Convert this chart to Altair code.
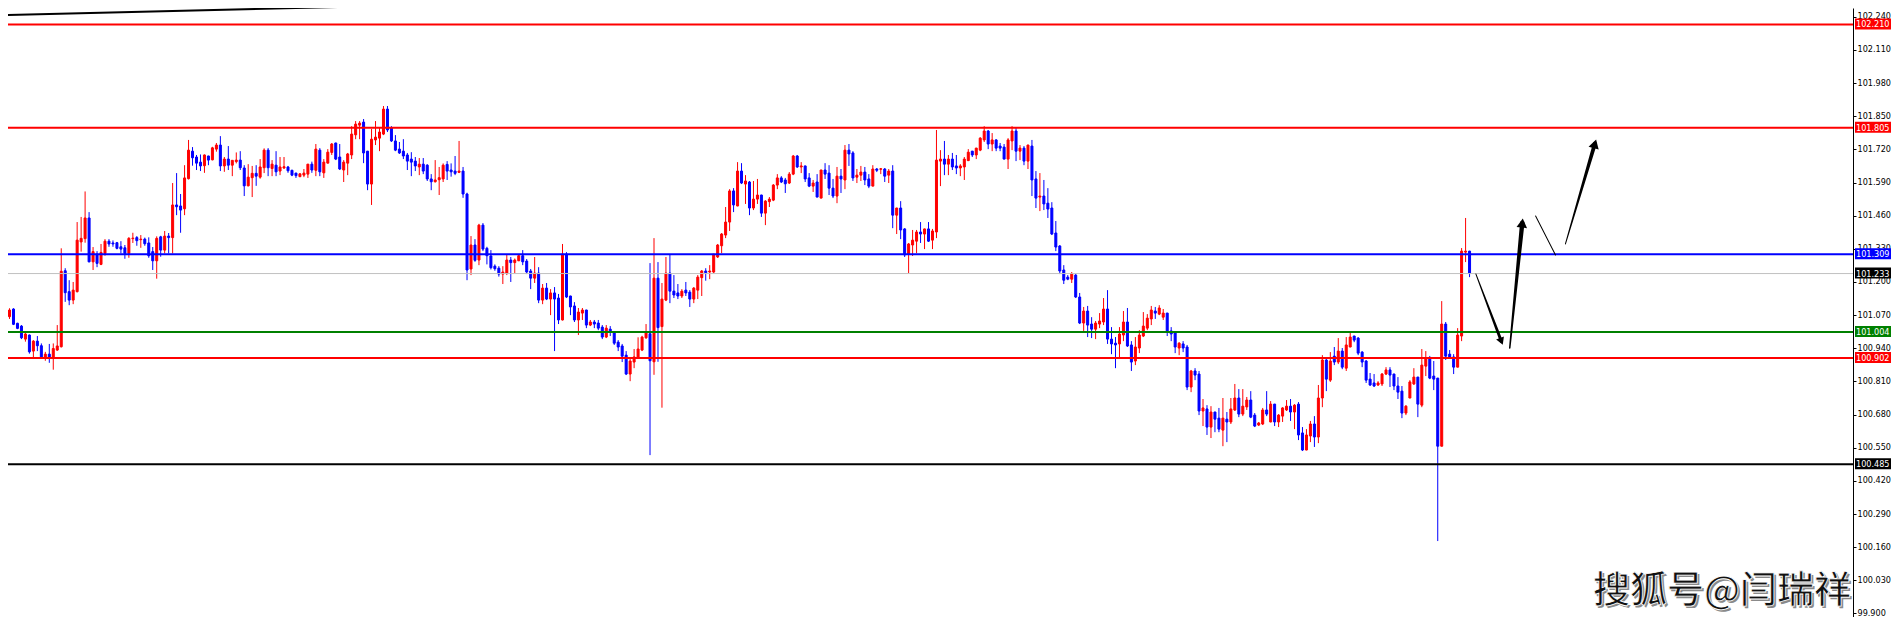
import altair as alt
import pandas as pd

# ---------------- candle data (one value per bar, oldest first) ----------------
open_ = [
101.142,101.064,101.094,101.038,101.027,100.976,100.992,100.929,100.968,100.950,
100.903,100.917,100.903,100.933,100.946,101.244,101.162,101.129,101.162,101.357,
101.370,101.451,101.279,101.309,101.269,101.312,101.360,101.353,101.354,101.338,
101.334,101.312,101.370,101.374,101.366,101.368,101.353,101.319,101.283,101.377,
101.325,101.380,101.374,101.502,101.498,101.487,101.605,101.713,101.690,101.670,
101.656,101.694,101.679,101.721,101.737,101.655,101.682,101.658,101.672,101.678,
101.647,101.577,101.609,101.626,101.611,101.648,101.717,101.645,101.658,101.635,
101.647,101.651,101.638,101.627,101.613,101.619,101.623,101.662,101.638,101.717,
101.628,101.666,101.708,101.745,101.690,101.639,101.666,101.698,101.777,101.815,
101.827,101.713,101.584,101.757,101.764,101.780,101.878,101.804,101.753,101.721,
101.713,101.698,101.682,101.674,101.651,101.662,101.658,101.604,101.593,101.601,
101.604,101.661,101.639,101.635,101.630,101.635,101.545,101.251,101.345,101.286,
101.423,101.332,101.302,101.262,101.254,101.231,101.235,101.286,101.276,101.283,
101.303,101.282,101.243,101.215,101.235,101.129,101.176,101.133,101.157,101.137,
101.051,101.309,101.145,101.106,101.051,101.078,101.090,101.031,101.043,101.039,
101.023,100.984,101.015,101.004,100.964,100.949,100.913,100.839,100.886,100.900,
100.933,100.981,100.997,100.887,101.215,101.025,101.129,101.235,101.164,101.157,
101.145,101.168,101.160,101.133,101.168,101.217,101.243,101.239,101.239,101.298,
101.342,101.384,101.435,101.557,101.498,101.635,101.584,101.592,101.490,101.525,
101.541,101.470,101.515,101.521,101.580,101.608,101.600,101.588,101.623,101.694,
101.651,101.655,101.608,101.576,101.592,101.529,101.639,101.627,101.568,101.537,
101.615,101.600,101.717,101.706,101.611,101.619,101.631,101.604,101.576,101.643,
101.642,101.643,101.619,101.635,101.462,101.490,101.408,101.309,101.345,101.360,
101.396,101.388,101.408,101.364,101.396,101.674,101.682,101.662,101.682,101.655,
101.647,101.651,101.676,101.713,101.698,101.717,101.757,101.792,101.741,101.757,
101.733,101.729,101.682,101.753,101.792,101.713,101.725,101.674,101.733,101.604,
101.533,101.537,101.509,101.490,101.392,101.341,101.247,101.219,101.211,101.227,
101.141,101.039,101.086,101.035,101.015,101.035,101.043,101.094,100.976,100.960,
100.957,100.992,101.043,100.953,100.890,100.941,100.988,101.019,101.055,101.086,
101.074,101.062,101.078,101.008,101.000,100.941,100.957,100.945,100.788,100.851,
100.839,100.694,100.702,100.631,100.690,100.666,100.619,100.662,100.651,100.698,
100.745,100.682,100.710,100.737,100.678,100.639,100.643,100.698,100.651,100.721,
100.651,100.674,100.698,100.713,100.690,100.721,100.608,100.541,100.596,100.643,
100.592,100.745,100.894,100.815,100.909,100.886,100.929,100.862,100.945,100.988,
100.980,100.925,100.890,100.819,100.804,100.796,100.800,100.839,100.855,100.839,
100.792,100.772,100.686,100.745,100.800,100.827,100.717,100.870,100.902,100.831,
100.823,100.556,101.035,100.917,100.906,100.866,100.988,101.317,101.321,
]
high = [
101.153,101.097,101.097,101.040,101.031,101.001,100.994,100.972,100.988,100.959,
100.926,100.957,100.959,101.031,101.332,101.254,101.207,101.200,101.435,101.455,
101.555,101.474,101.337,101.321,101.349,101.368,101.368,101.363,101.357,101.360,
101.345,101.376,101.393,101.380,101.384,101.374,101.375,101.337,101.379,101.381,
101.400,101.392,101.588,101.627,101.545,101.658,101.757,101.729,101.698,101.700,
101.700,101.695,101.730,101.745,101.772,101.690,101.733,101.677,101.708,101.713,
101.658,101.662,101.655,101.658,101.682,101.724,101.725,101.678,101.713,101.690,
101.690,101.655,101.640,101.628,101.627,101.643,101.663,101.672,101.741,101.725,
101.682,101.721,101.745,101.746,101.741,101.678,101.706,101.811,101.831,101.831,
101.839,101.714,101.800,101.831,101.804,101.890,101.890,101.811,101.776,101.749,
101.760,101.706,101.709,101.690,101.686,101.686,101.662,101.623,101.678,101.651,
101.665,101.674,101.665,101.694,101.753,101.651,101.550,101.380,101.368,101.428,
101.431,101.338,101.325,101.269,101.262,101.262,101.306,101.298,101.292,101.307,
101.325,101.290,101.251,101.298,101.258,101.192,101.196,101.172,101.180,101.153,
101.349,101.317,101.146,101.121,101.098,101.098,101.091,101.051,101.051,101.051,
101.031,101.031,101.027,101.005,100.972,100.957,100.929,100.902,100.937,100.983,
100.989,101.035,101.274,101.372,101.278,101.196,101.298,101.309,101.227,101.192,
101.172,101.200,101.168,101.180,101.227,101.247,101.254,101.266,101.310,101.349,
101.392,101.494,101.564,101.568,101.670,101.666,101.619,101.596,101.596,101.604,
101.542,101.521,101.533,101.584,101.623,101.615,101.608,101.631,101.698,101.698,
101.670,101.656,101.627,101.600,101.623,101.640,101.666,101.658,101.604,101.651,
101.643,101.737,101.741,101.713,101.643,101.655,101.651,101.623,101.658,101.647,
101.647,101.647,101.643,101.658,101.491,101.517,101.411,101.353,101.404,101.404,
101.435,101.409,101.435,101.408,101.796,101.717,101.753,101.698,101.706,101.698,
101.662,101.690,101.721,101.714,101.726,101.768,101.811,101.796,101.784,101.760,
101.745,101.741,101.764,101.811,101.804,101.737,101.733,101.738,101.757,101.635,
101.627,101.600,101.568,101.513,101.439,101.345,101.266,101.227,101.239,101.231,
101.157,101.102,101.106,101.062,101.047,101.078,101.137,101.168,101.023,100.984,
101.023,101.086,101.098,100.968,100.984,101.011,101.082,101.074,101.106,101.102,
101.109,101.094,101.079,101.023,101.004,100.964,100.968,100.953,100.855,100.862,
100.851,100.741,100.717,100.713,100.691,100.706,100.745,100.690,100.745,100.800,
100.780,100.780,100.749,100.772,100.686,100.651,100.706,100.772,100.733,100.722,
100.682,100.709,100.737,100.741,100.721,100.729,100.631,100.623,100.655,100.674,
100.796,100.913,100.902,100.925,100.945,100.980,100.941,100.984,101.004,100.989,
100.984,100.929,100.894,100.843,100.839,100.811,100.843,100.866,100.866,100.840,
100.827,100.792,100.717,100.815,100.862,100.828,100.937,100.929,100.910,100.890,
100.824,101.125,101.043,100.933,100.917,101.019,101.333,101.451,101.322,
]
low = [
101.064,101.055,101.031,101.015,100.976,100.966,100.919,100.903,100.929,100.900,
100.891,100.883,100.856,100.930,100.943,101.122,101.109,101.113,101.159,101.319,
101.354,101.277,101.247,101.258,101.266,101.303,101.338,101.338,101.328,101.312,
101.291,101.295,101.353,101.342,101.334,101.342,101.295,101.247,101.213,101.299,
101.312,101.312,101.312,101.462,101.393,101.462,101.602,101.656,101.639,101.635,
101.628,101.658,101.677,101.711,101.635,101.632,101.639,101.615,101.665,101.639,
101.537,101.575,101.533,101.577,101.605,101.627,101.615,101.615,101.615,101.619,
101.643,101.628,101.615,101.608,101.611,101.611,101.608,101.628,101.615,101.615,
101.608,101.665,101.698,101.678,101.639,101.592,101.619,101.682,101.760,101.760,
101.666,101.560,101.502,101.737,101.713,101.776,101.788,101.749,101.713,101.702,
101.682,101.639,101.615,101.635,101.619,101.623,101.596,101.560,101.590,101.541,
101.592,101.600,101.613,101.619,101.627,101.530,101.207,101.227,101.279,101.266,
101.321,101.269,101.249,101.244,101.221,101.192,101.227,101.200,101.235,101.282,
101.266,101.231,101.172,101.196,101.117,101.113,101.129,101.070,100.929,101.035,
101.049,101.137,101.070,101.043,100.992,101.051,101.019,101.027,101.019,101.011,
100.976,100.980,100.988,100.953,100.929,100.886,100.835,100.811,100.862,100.898,
100.929,100.977,100.521,100.836,100.887,100.707,101.125,101.117,101.137,101.133,
101.137,101.145,101.102,101.117,101.133,101.145,101.205,101.211,101.235,101.294,
101.313,101.372,101.400,101.474,101.497,101.584,101.506,101.462,101.482,101.506,
101.455,101.423,101.494,101.517,101.564,101.588,101.549,101.584,101.619,101.647,
101.627,101.592,101.572,101.553,101.532,101.528,101.604,101.541,101.529,101.509,
101.549,101.564,101.655,101.596,101.588,101.596,101.580,101.568,101.575,101.631,
101.623,101.592,101.588,101.411,101.388,101.368,101.298,101.235,101.302,101.313,
101.353,101.329,101.357,101.329,101.372,101.576,101.619,101.619,101.639,101.623,
101.615,101.600,101.674,101.690,101.682,101.713,101.749,101.721,101.713,101.713,
101.713,101.681,101.643,101.717,101.674,101.678,101.658,101.643,101.537,101.490,
101.478,101.482,101.451,101.384,101.321,101.231,101.192,101.207,101.196,101.137,
101.035,101.008,100.984,100.980,100.976,101.019,101.031,100.957,100.917,100.862,
100.902,100.968,100.945,100.851,100.874,100.921,100.984,101.011,101.031,101.055,
101.070,101.051,100.988,100.968,100.921,100.913,100.925,100.776,100.768,100.815,
100.678,100.635,100.600,100.588,100.611,100.611,100.556,100.572,100.643,100.694,
100.670,100.674,100.698,100.666,100.631,100.635,100.639,100.674,100.650,100.635,
100.631,100.651,100.694,100.655,100.623,100.580,100.537,100.540,100.572,100.553,
100.568,100.709,100.772,100.808,100.874,100.878,100.858,100.851,100.944,100.964,
100.913,100.866,100.804,100.792,100.788,100.792,100.792,100.835,100.788,100.776,
100.741,100.666,100.678,100.744,100.796,100.670,100.709,100.831,100.819,100.776,
100.184,100.555,100.894,100.902,100.839,100.865,100.968,101.278,101.219,
]
close = [
101.068,101.090,101.034,101.018,100.981,100.996,100.926,100.968,100.950,100.903,
100.917,100.900,100.939,100.949,101.242,101.158,101.129,101.168,101.364,101.371,
101.451,101.279,101.319,101.273,101.316,101.360,101.349,101.349,101.332,101.329,
101.312,101.371,101.372,101.362,101.368,101.350,101.303,101.283,101.371,101.325,
101.380,101.374,101.502,101.495,101.482,101.608,101.717,101.687,101.666,101.655,
101.698,101.678,101.726,101.737,101.655,101.682,101.658,101.677,101.678,101.648,
101.577,101.611,101.626,101.615,101.651,101.717,101.648,101.662,101.632,101.651,
101.652,101.636,101.619,101.617,101.624,101.627,101.662,101.639,101.721,101.632,
101.670,101.709,101.741,101.682,101.643,101.670,101.702,101.780,101.819,101.823,
101.706,101.584,101.760,101.768,101.788,101.878,101.796,101.753,101.717,101.706,
101.694,101.674,101.670,101.655,101.662,101.635,101.604,101.593,101.600,101.609,
101.658,101.635,101.632,101.626,101.635,101.545,101.247,101.345,101.285,101.423,
101.329,101.303,101.256,101.252,101.231,101.239,101.286,101.276,101.286,101.303,
101.279,101.239,101.215,101.235,101.129,101.176,101.133,101.157,101.133,101.051,
101.309,101.141,101.102,101.051,101.082,101.090,101.031,101.043,101.035,101.019,
100.984,101.019,101.004,100.960,100.945,100.909,100.839,100.890,100.906,100.937,
100.984,101.002,100.891,101.215,101.021,101.133,101.235,101.164,101.149,101.145,
101.164,101.157,101.133,101.176,101.219,101.243,101.236,101.243,101.309,101.345,
101.388,101.435,101.557,101.502,101.635,101.588,101.596,101.490,101.525,101.541,
101.470,101.517,101.525,101.580,101.608,101.592,101.585,101.623,101.694,101.651,
101.655,101.604,101.576,101.588,101.533,101.639,101.623,101.568,101.537,101.615,
101.604,101.717,101.702,101.608,101.619,101.631,101.600,101.576,101.643,101.638,
101.644,101.615,101.635,101.462,101.490,101.404,101.306,101.349,101.364,101.396,
101.388,101.408,101.360,101.400,101.678,101.682,101.662,101.682,101.651,101.647,
101.655,101.682,101.709,101.698,101.725,101.764,101.792,101.741,101.757,101.725,
101.725,101.682,101.757,101.792,101.713,101.725,101.674,101.737,101.600,101.529,
101.537,101.506,101.486,101.388,101.337,101.243,101.207,101.211,101.231,101.141,
101.039,101.086,101.031,101.015,101.039,101.047,101.094,100.976,100.957,100.953,
100.996,101.043,100.949,100.886,100.945,100.992,101.027,101.058,101.090,101.078,
101.098,101.078,101.008,100.996,100.945,100.960,100.941,100.788,100.851,100.835,
100.694,100.706,100.631,100.690,100.662,100.623,100.666,100.651,100.702,100.745,
100.682,100.713,100.737,100.670,100.635,100.647,100.698,100.682,100.721,100.651,
100.678,100.706,100.713,100.690,100.717,100.600,100.541,100.600,100.643,100.592,
100.745,100.894,100.819,100.890,100.886,100.929,100.866,100.953,100.984,100.972,
100.921,100.886,100.815,100.796,100.792,100.804,100.839,100.855,100.835,100.792,
100.768,100.686,100.713,100.808,100.827,100.721,100.874,100.902,100.823,100.819,
100.556,101.035,100.909,100.906,100.866,100.992,101.321,101.321,101.233,
]

# ---------------- horizontal levels and price tags ----------------
level_price = [102.210, 101.805, 101.309, 101.233, 101.004, 100.902, 100.485]
level_label = ["102.210", "101.805", "101.309", "101.233", "101.004", "100.902", "100.485"]
level_line_color = ["#FF0000", "#FF0000", "#0000FF", "#C0C0C0", "#008000", "#FF0000", "#000000"]
level_tag_color = ["#FF0000", "#FF0000", "#0000FF", "#000000", "#008000", "#FF0000", "#000000"]
level_line_width = [2, 2, 2, 1, 2, 2, 2]

# right-hand price scale labels
tick_values = [102.240, 102.110, 101.980, 101.850, 101.720, 101.590, 101.460, 101.330,
               101.200, 101.070, 100.940, 100.810, 100.680, 100.550, 100.420, 100.290,
               100.160, 100.030, 99.900]

# trend line at the top (bar index, price)
trend_bar = [0, 160]
trend_price = [102.247, 102.307]

# hand-drawn arrows (bar index, price)
arrow_id = ["a1", "a1", "a2", "a2", "a3", "a3", "a4", "a4"]
arrow_bar = [369.6, 376.0, 378.1, 381.25, 384.6, 389.6, 392.1, 399.5]
arrow_price = [101.231, 100.967, 100.941, 101.431, 101.459, 101.306, 101.349, 101.742]
arrow_width = [1.0, 3.0, 1.5, 4.5, 1.0, 1.0, 1.0, 4.0]  # style: shaft width
head_bar = [376.0, 381.25, 399.5]
head_price = [100.967, 101.431, 101.742]
head_angle = [158, 6, 16]       # style
head_size = [70, 110, 110]      # style

watermark = "搜狐号@闫瑞祥"

# ---------------- layout ----------------
W, H = 1845, 609
RIGHT_PAD = 38
X_DOMAIN = [1.875, 1.875 + W / 4]
Y_DOMAIN = [99.8862, 102.2744]
AXIS_FONT = "Liberation Sans Narrow, Noto Sans Condensed, DejaVu Sans Condensed, Liberation Sans, sans-serif"
FS = 9

n = len(close)
candles = pd.DataFrame({
    "k": list(range(n)), "open": open_, "high": high, "low": low, "close": close,
})
candles["dir"] = ["up" if c > o else "down" for o, c in zip(open_, close)]

xs = alt.Scale(domain=X_DOMAIN, nice=False, zero=False)
ys = alt.Scale(domain=Y_DOMAIN, nice=False, zero=False)
cscale = alt.Scale(domain=["up", "down"], range=["#FF0000", "#0000FF"])


def yaxis():
    return alt.Axis(orient="right", values=tick_values, format=".3f", title=None,
                    grid=False, tickSize=3, labelPadding=1, domainColor="#000000",
                    domainWidth=1, tickColor="#000000", labelColor="#000000",
                    labelFont=AXIS_FONT, labelFontSize=FS, labelOverlap=False,
                    labelFlush=False, labelBound=False, labelOffset=-1)


base = alt.Chart(candles)

wicks = base.mark_rule(strokeWidth=1, clip=True).encode(
    x=alt.X("k:Q", scale=xs, axis=None),
    y=alt.Y("low:Q", scale=ys, axis=yaxis()),
    y2="high:Q",
    color=alt.Color("dir:N", scale=cscale, legend=None),
)

bodies = base.mark_bar(size=2, strokeWidth=1, clip=True).encode(
    x=alt.X("k:Q", scale=xs, axis=None),
    y=alt.Y("open:Q", scale=ys, axis=yaxis()),
    y2="close:Q",
    color=alt.Color("dir:N", scale=cscale, legend=None),
    stroke=alt.Stroke("dir:N", scale=cscale, legend=None),
)

levels = pd.DataFrame({
    "price": level_price, "label": level_label, "lc": level_line_color,
    "tc": level_tag_color, "lw": level_line_width,
})

level_lines = alt.Chart(levels).mark_rule(clip=True).encode(
    y=alt.Y("price:Q", scale=ys, axis=yaxis()),
    color=alt.Color("lc:N", scale=None),
    strokeWidth=alt.StrokeWidth("lw:Q", scale=None),
)

tags = alt.Chart(levels).mark_rect(clip=False, yOffset=-6, y2Offset=5).encode(
    x=alt.value(W + 2), x2=alt.value(W + RIGHT_PAD),
    y=alt.Y("price:Q", scale=ys, axis=yaxis()), y2=alt.Y2("price:Q"),
    color=alt.Color("tc:N", scale=None),
)

tag_text = alt.Chart(levels).mark_text(
    clip=False, align="left", baseline="middle", font=AXIS_FONT, fontSize=FS, color="#FFFFFF"
).encode(
    x=alt.value(W + 3),
    y=alt.Y("price:Q", scale=ys, axis=yaxis()),
    text="label:N",
)

trend = alt.Chart(pd.DataFrame({"k": trend_bar, "p": trend_price})).mark_line(
    color="#000000", strokeWidth=2, clip=True
).encode(x=alt.X("k:Q", scale=xs, axis=None), y=alt.Y("p:Q", scale=ys, axis=yaxis()))

arrows = alt.Chart(pd.DataFrame({
    "id": arrow_id, "k": arrow_bar, "p": arrow_price, "w": arrow_width,
    "o": list(range(len(arrow_id))),
})).mark_trail(color="#000000", clip=True).encode(
    x=alt.X("k:Q", scale=xs, axis=None), y=alt.Y("p:Q", scale=ys, axis=yaxis()),
    size=alt.Size("w:Q", scale=None, legend=None),
    detail="id:N", order="o:Q",
)

heads = alt.Chart(pd.DataFrame({
    "k": head_bar, "p": head_price, "a": head_angle, "s": head_size,
})).mark_point(shape="triangle-up", filled=True, color="#000000", opacity=1, clip=True).encode(
    x=alt.X("k:Q", scale=xs, axis=None), y=alt.Y("p:Q", scale=ys, axis=yaxis()),
    angle=alt.Angle("a:Q", scale=None),
    size=alt.Size("s:Q", scale=None, legend=None),
)

wm_df = pd.DataFrame({"t": [watermark]})
wm_shadow = alt.Chart(wm_df).mark_text(
    align="right", baseline="alphabetic", font="Noto Sans CJK SC", fontSize=37,
    fontWeight=500, color="#8A8A8A", dx=2, dy=2
).encode(x=alt.value(W - 2), y=alt.value(H - 14), text="t:N")

wm = alt.Chart(wm_df).mark_text(
    align="right", baseline="alphabetic", font="Noto Sans CJK SC", fontSize=37,
    fontWeight=500, color="#111111", stroke="#FFFFFF", strokeWidth=0.8
).encode(x=alt.value(W - 2), y=alt.value(H - 14), text="t:N")

chart = alt.layer(
    wicks, bodies, level_lines, trend, arrows, heads, wm_shadow, wm, tags, tag_text
).properties(
    width=W, height=H, background="#FFFFFF",
    autosize=alt.AutoSizeParams(type="none"),
    padding={"left": 0, "top": 0, "right": RIGHT_PAD, "bottom": 0},
).configure_view(stroke=None).configure_axis(labelOverlap=False)

chart.save("out.html", embed_options={"renderer": "svg", "actions": False})
